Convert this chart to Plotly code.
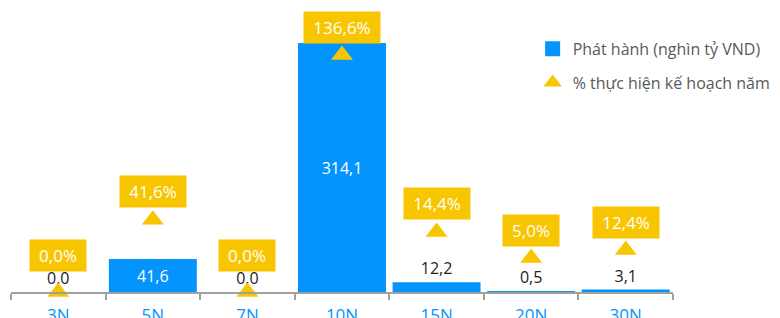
import plotly.graph_objects as go

categories = ["3N", "5N", "7N", "10N", "15N", "20N", "30N"]
issued = [0.0, 41.6, 0.0, 314.1, 12.2, 0.5, 3.1]
issued_labels = ["0,0", "41,6", "0,0", "314,1", "12,2", "0,5", "3,1"]
pct_marker = [0.0, 41.6, 0.0, 136.6, 34.6, 19.6, 24.2]
pct_labels = ["0,0%", "41,6%", "0,0%", "136,6%", "14,4%", "5,0%", "12,4%"]

BLUE = "#0394FE"
YELLOW = "#F8C600"
FONT = "Open Sans"

text_pos = ["inside" if v > 30 else "outside" for v in issued]
text_col = ["white" if v > 30 else "#222222" for v in issued]

fig = go.Figure()
fig.add_trace(go.Bar(
    x=categories, y=issued, name="Phát hành (nghìn tỷ VND)",
    marker=dict(color=BLUE, line=dict(width=0)),
    text=issued_labels, textposition=text_pos, insidetextanchor="middle",
    textfont=dict(family=FONT, size=16, color=text_col),
    cliponaxis=False, showlegend=False,
))
# legend-only proxy with a larger square symbol
fig.add_trace(go.Scatter(
    x=[None], y=[None], mode="markers", name="Phát hành (nghìn tỷ VND)",
    marker=dict(symbol="square", size=15, color=BLUE), legend="legend",
))
fig.add_trace(go.Scatter(
    x=categories, y=pct_marker, name="% thực hiện kế hoạch năm",
    mode="markers", yaxis="y2",
    marker=dict(symbol="triangle-up", size=19, color=YELLOW),
    cliponaxis=False, legend="legend2",
))

for c, v, t in zip(categories, pct_marker, pct_labels):
    fig.add_annotation(
        x=c, y=v, yref="y2", text=t, showarrow=False,
        yshift=37 if v == 0 else 28,
        width=10 * len(t) + 8,
        bgcolor=YELLOW, borderpad=4,
        font=dict(family=FONT, size=17, color="white"),
    )

fig.update_layout(
    width=780, height=318,
    margin=dict(l=3, r=115, t=0, b=34),
    paper_bgcolor="white", plot_bgcolor="white",
    bargap=0.07, showlegend=True,
    xaxis=dict(
        showgrid=False, showline=True, linecolor="#A0A0A0", linewidth=2,
        ticks="outside", tickson="boundaries", ticklen=6, tickcolor="#A0A0A0", tickwidth=2,
        ticklabelstandoff=7,
        tickfont=dict(family=FONT, size=17, color=BLUE), automargin=False,
    ),
    yaxis=dict(range=[0, 358.3], visible=False, fixedrange=True),
    yaxis2=dict(range=[0, 163.7], visible=False, overlaying="y", side="right"),
    legend=dict(x=0.788, y=0.856, xanchor="left", yanchor="middle", itemsizing="trace",
                font=dict(family=FONT, size=16, color="#595959"), bgcolor="rgba(0,0,0,0)"),
    legend2=dict(x=0.788, y=0.737, xanchor="left", yanchor="middle", itemsizing="trace",
                 font=dict(family=FONT, size=16, color="#595959"), bgcolor="rgba(0,0,0,0)"),
)

fig.write_html("out.html")
